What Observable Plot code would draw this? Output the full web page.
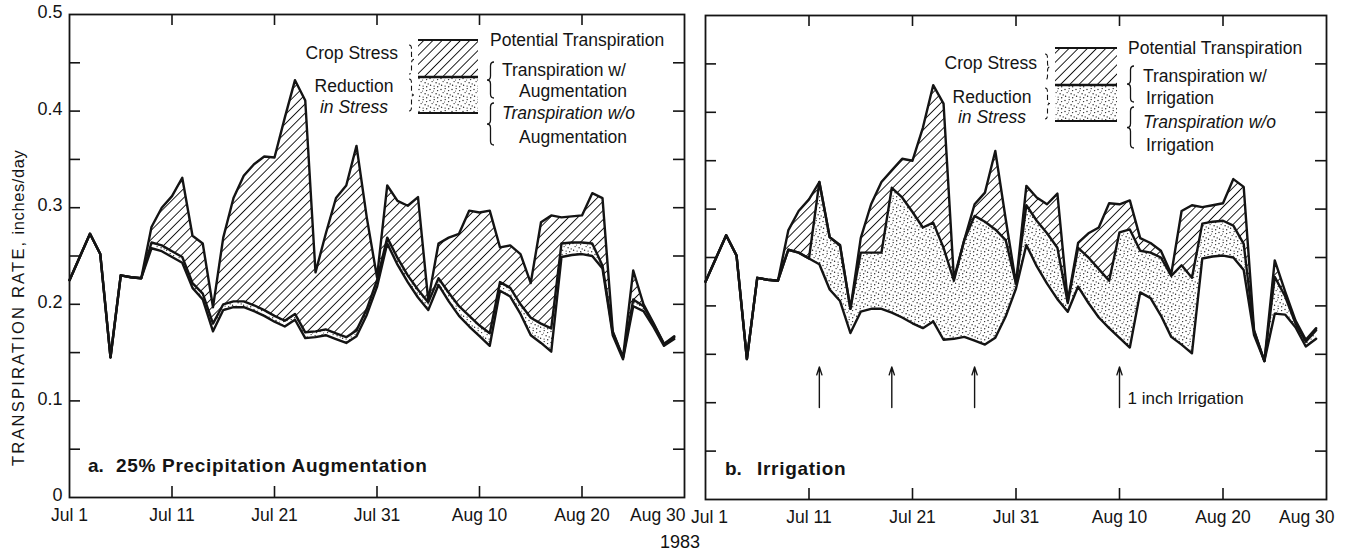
<!DOCTYPE html>
<html>
<head>
<meta charset="utf-8">
<script src="https://cdn.jsdelivr.net/npm/d3@7"></script>
<script src="https://cdn.jsdelivr.net/npm/@observablehq/plot@0.6"></script>
<style>
  body { margin: 0; background: #fff; }
  #wrap { position: relative; width: 1348px; height: 555px; font-family: "Liberation Sans", Arial, sans-serif; color: #111; }
  .panel { position: absolute; top: 0; }
  #year { position: absolute; left: 630px; width: 100px; text-align: center; top: 532px; font-size: 18px; }
</style>
</head>
<body>
<svg width="0" height="0" style="position:absolute">
  <defs>
    <pattern id="hatch" width="6.5" height="6.5" patternUnits="userSpaceOnUse" patternTransform="rotate(45)">
      <line x1="3.25" y1="-1" x2="3.25" y2="7.5" stroke="#111" stroke-width="0.95"/>
    </pattern>
    <pattern id="stipple" width="11" height="11" patternUnits="userSpaceOnUse">
      <circle cx="1" cy="1.5" r="0.7" fill="#222"/>
      <circle cx="5.2" cy="0.6" r="0.65" fill="#222"/>
      <circle cx="8.6" cy="2.6" r="0.7" fill="#222"/>
      <circle cx="3.1" cy="4.6" r="0.65" fill="#222"/>
      <circle cx="7.1" cy="5.7" r="0.7" fill="#222"/>
      <circle cx="10.2" cy="6.9" r="0.65" fill="#222"/>
      <circle cx="1.6" cy="8.2" r="0.7" fill="#222"/>
      <circle cx="5.1" cy="9.1" r="0.65" fill="#222"/>
      <circle cx="8.7" cy="9.8" r="0.7" fill="#222"/>
      <circle cx="4.6" cy="3.0" r="0.5" fill="#222"/>
    </pattern>
  </defs>
</svg>
<div id="wrap">
  <div id="pa" class="panel" style="left:0px"></div>
  <div id="pb" class="panel" style="left:690px"></div>
  <div id="year">1983</div>
</div>
<script>
const FONT = '"Liberation Sans", Arial, sans-serif';

// ---- data (daily, Jul 1 - Aug 29, 1983) ----
const dates = d3.utcDay.range(new Date(Date.UTC(1983, 6, 1)), new Date(Date.UTC(1983, 7, 30)));

// Panel a: 25% precipitation augmentation
const potentialA = [0.225,0.249,0.273,0.252,0.145,0.230,0.228,0.227,0.280,0.300,
  0.312,0.331,0.271,0.263,0.197,0.269,0.310,0.333,0.345,0.353,
  0.352,0.393,0.432,0.411,0.233,0.273,0.310,0.323,0.364,0.290,
  0.228,0.323,0.307,0.302,0.311,0.204,0.263,0.269,0.273,0.297,
  0.295,0.297,0.259,0.261,0.252,0.222,0.285,0.292,0.290,0.291,
  0.292,0.315,0.310,0.172,0.145,0.235,0.200,0.180,0.159,0.167];
const withAug = [0.225,0.249,0.273,0.252,0.145,0.230,0.228,0.227,0.264,0.261,
  0.255,0.249,0.222,0.211,0.180,0.200,0.203,0.203,0.199,0.194,
  0.188,0.183,0.190,0.171,0.172,0.174,0.170,0.166,0.173,0.195,
  0.225,0.269,0.248,0.230,0.215,0.202,0.227,0.212,0.198,0.188,
  0.178,0.170,0.223,0.217,0.200,0.186,0.180,0.175,0.263,0.264,
  0.264,0.263,0.240,0.171,0.145,0.205,0.198,0.179,0.159,0.166];
const withoutAug = [0.225,0.249,0.273,0.252,0.145,0.230,0.228,0.227,0.258,0.255,
  0.249,0.243,0.217,0.205,0.172,0.194,0.197,0.197,0.193,0.188,
  0.182,0.177,0.184,0.165,0.166,0.168,0.164,0.160,0.167,0.189,
  0.218,0.263,0.241,0.223,0.207,0.194,0.220,0.203,0.188,0.177,
  0.167,0.157,0.214,0.208,0.190,0.168,0.160,0.151,0.249,0.251,
  0.252,0.250,0.237,0.168,0.143,0.198,0.193,0.176,0.157,0.164];

// Panel b: irrigation
const potentialB = [0.225,0.249,0.273,0.252,0.145,0.229,0.227,0.226,0.278,0.298,
  0.310,0.328,0.271,0.263,0.197,0.270,0.305,0.328,0.340,0.352,
  0.350,0.384,0.428,0.409,0.228,0.268,0.305,0.317,0.360,0.290,
  0.223,0.324,0.312,0.305,0.316,0.205,0.265,0.275,0.281,0.306,
  0.305,0.309,0.270,0.265,0.257,0.233,0.298,0.304,0.302,0.304,
  0.306,0.331,0.323,0.175,0.143,0.247,0.215,0.185,0.165,0.177];
const withIrr = [0.225,0.249,0.273,0.252,0.145,0.229,0.227,0.226,0.258,0.255,
  0.249,0.328,0.271,0.262,0.197,0.255,0.255,0.255,0.322,0.312,
  0.297,0.281,0.286,0.260,0.226,0.268,0.293,0.287,0.279,0.268,
  0.223,0.304,0.288,0.275,0.260,0.203,0.260,0.250,0.238,0.226,
  0.276,0.279,0.257,0.255,0.250,0.231,0.242,0.229,0.285,0.287,
  0.288,0.283,0.264,0.174,0.143,0.230,0.210,0.182,0.163,0.175];
const withoutIrr = [0.225,0.249,0.273,0.252,0.145,0.229,0.227,0.226,0.258,0.255,
  0.249,0.243,0.217,0.205,0.172,0.194,0.197,0.197,0.193,0.188,
  0.182,0.177,0.184,0.165,0.166,0.168,0.164,0.160,0.167,0.189,
  0.218,0.263,0.241,0.223,0.207,0.194,0.220,0.203,0.188,0.177,
  0.167,0.157,0.214,0.208,0.190,0.168,0.160,0.151,0.249,0.251,
  0.252,0.250,0.237,0.170,0.143,0.192,0.191,0.178,0.158,0.166];

// irrigation events (1 inch)
const irrigationDates = ["1983-07-12", "1983-07-19", "1983-07-27", "1983-08-10"].map(s => new Date(s + "T00:00Z"));

// axes
const xDomain = [new Date(Date.UTC(1983, 6, 1)), new Date(Date.UTC(1983, 7, 30))];
const xTickDates = ["1983-07-11", "1983-07-21", "1983-07-31", "1983-08-10", "1983-08-20"].map(s => new Date(s + "T00:00Z"));
const xLabelDates = ["1983-07-01", "1983-07-11", "1983-07-21", "1983-07-31", "1983-08-10", "1983-08-20", "1983-08-30"].map(s => new Date(s + "T00:00Z"));
const xLabelText = ["Jul 1", "Jul 11", "Jul 21", "Jul 31", "Aug 10", "Aug 20", "Aug 30"];
const yTickValues = [0.05, 0.1, 0.15, 0.2, 0.25, 0.3, 0.35, 0.4, 0.45];
const yLabelValues = [0, 0.1, 0.2, 0.3, 0.4, 0.5];
const yLabelText = ["0", "0.1", "0.2", "0.3", "0.4", "0.5"];

const H = 555;
const INK = "#141414";

function brace(x, y0, y1, d, w) {
  const ym = (y0 + y1) / 2, a = x + d * w, m = x + d * w / 2, q = Math.min(4, (y1 - y0) / 6);
  return `M${a},${y0}Q${m},${y0} ${m},${y0 + q}L${m},${ym - q}Q${m},${ym} ${x},${ym}Q${m},${ym} ${m},${ym + q}L${m},${y1 - q}Q${m},${y1} ${a},${y1}`;
}

function makePanel(cfg) {
  const rows = dates.map((d, i) => ({date: d, pot: cfg.pot[i], w: cfg.w[i], wo: cfg.wo[i]}));
  const fw = cfg.width - cfg.ml - cfg.mr, fh = H - cfg.mt - cfg.mb;
  const tick = {stroke: INK, strokeWidth: 1.6};
  const lab = {frameAnchor: "bottom", dy: 23, fontSize: 17.5, fill: INK};
  const marks = [
    Plot.areaY(rows, {x: "date", y1: "w", y2: "pot", fill: "url(#hatch)"}),
    Plot.areaY(rows, {x: "date", y1: "wo", y2: "w", fill: "url(#stipple)"}),
    Plot.line(rows, {x: "date", y: "pot", stroke: INK, strokeWidth: 2.4}),
    Plot.line(rows, {x: "date", y: "w", stroke: INK, strokeWidth: 2.4}),
    Plot.line(rows, {x: "date", y: "wo", stroke: INK, strokeWidth: 2.4}),
    Plot.frame({stroke: INK, strokeWidth: 1.8}),
    Plot.ruleX(xTickDates, {x: d => d, insetTop: fh - 11, ...tick}),
    Plot.ruleX(xTickDates, {x: d => d, insetBottom: fh - 11, ...tick}),
    Plot.ruleY(yTickValues, {y: d => d, insetRight: fw - 11, ...tick}),
    Plot.ruleY(yTickValues, {y: d => d, insetLeft: fw - 11, ...tick}),
    Plot.text(xLabelDates.slice(0, 1), {x: d => d, text: xLabelText.slice(0, 1), dx: cfg.firstDx, ...lab}),
    Plot.text(xLabelDates.slice(1, 6), {x: d => d, text: xLabelText.slice(1, 6), ...lab}),
    Plot.text(xLabelDates.slice(6), {x: d => d, text: xLabelText.slice(6), textAnchor: "end", dx: cfg.lastDx, ...lab})
  ];
  if (cfg.yLabels) {
    marks.push(Plot.text(yLabelValues, {y: d => d, text: yLabelText, frameAnchor: "left", textAnchor: "end", dx: -7, dy: -2, fontSize: 18, fill: INK}));
  }
  if (cfg.arrows) {
    marks.push(Plot.arrow(irrigationDates, {x1: d => d, x2: d => d, y1: () => 0.095, y2: () => 0.137, stroke: INK, strokeWidth: 1.4, headLength: 9, headAngle: 36}));
    marks.push(Plot.text(irrigationDates.slice(-1), {x: d => d, y: () => 0.104, text: () => "1 inch Irrigation", textAnchor: "start", dx: 8, fontSize: 17, fill: INK}));
  }
  return Plot.plot({
    width: cfg.width, height: H,
    marginLeft: cfg.ml, marginRight: cfg.mr, marginTop: cfg.mt, marginBottom: cfg.mb,
    x: {type: "utc", domain: xDomain, axis: null},
    y: {domain: [0, 0.5], axis: null},
    style: {fontFamily: FONT, background: "transparent", overflow: "visible"},
    marks
  });
}

function legend(svg, o) {
  const g = d3.select(svg).append("g").attr("font-family", FONT).attr("fill", INK).attr("font-size", 17.5).attr("text-anchor", "start");
  g.append("rect").attr("x", o.bx0).attr("y", o.yTop).attr("width", o.bx1 - o.bx0).attr("height", o.yMid - o.yTop).attr("fill", "url(#hatch)");
  g.append("rect").attr("x", o.bx0).attr("y", o.yMid).attr("width", o.bx1 - o.bx0).attr("height", o.yBot - o.yMid).attr("fill", "url(#stipple)");
  for (const [y, w] of [[o.yTop, 1.8], [o.yMid, 2.4], [o.yBot, 2.2]]) {
    g.append("line").attr("x1", o.bx0).attr("x2", o.bx1).attr("y1", y).attr("y2", y).attr("stroke", INK).attr("stroke-width", w);
  }
  const t = (x, y, s, anchor = "start", italic = false) =>
    g.append("text").attr("x", x).attr("y", y).attr("dy", "0.35em").attr("text-anchor", anchor).attr("font-style", italic ? "italic" : null).text(s);
  t(o.potX, o.potY, "Potential Transpiration");
  t(o.textX, o.t1Y, "Transpiration w/");
  t(o.centerX, o.t1bY, o.word, "middle");
  t(o.textX, o.t2Y, "Transpiration w/o", "start", true);
  t(o.centerX, o.t2bY, o.word, "middle");
  t(o.cropEnd, o.cropY, "Crop Stress", "end");
  t(o.redX, o.redY, "Reduction", "middle");
  t(o.redX, o.inY, "in Stress", "middle", true);
  const b = (x, y0, y1, d, w, sw, dash) => g.append("path").attr("d", brace(x, y0, y1, d, w)).attr("fill", "none").attr("stroke", INK).attr("stroke-width", sw).attr("stroke-dasharray", dash);
  b(o.braceX, o.br1[0], o.br1[1], 1, 7, 1.3, null);
  b(o.braceX, o.br2[0], o.br2[1], 1, 7, 1.3, null);
  b(o.lbrX, o.lbr1[0], o.lbr1[1], -1, 5, 1.1, "5 3");
  b(o.lbrX, o.lbr2[0], o.lbr2[1], -1, 5, 1.1, "5 3");
}

// Panel a
const svgA = makePanel({width: 690, ml: 69, mr: 6, mt: 14, mb: 58, pot: potentialA, w: withAug, wo: withoutAug, yLabels: true, firstDx: 0, lastDx: 1});
legend(svgA, {bx0: 418, bx1: 478, yTop: 40, yMid: 77, yBot: 113, potX: 490, potY: 40,
  braceX: 487, br1: [62, 98], br2: [103, 145], textX: 502, t1Y: 70, t1bY: 91, t2Y: 113, t2bY: 137,
  centerX: 573, word: "Augmentation", cropEnd: 398, cropY: 53, redX: 354, redY: 86, inY: 107,
  lbrX: 414, lbr1: [45, 74], lbr2: [79, 111]});
{
  const g = d3.select(svgA).append("g").attr("font-family", FONT).attr("fill", INK).attr("text-anchor", "start");
  const title = g.append("text").attr("transform", "translate(18,466) rotate(-90)").attr("font-size", 16.5).attr("dy", "0.35em").attr("text-anchor", "start");
  title.append("tspan").attr("letter-spacing", "2.2px").text("TRANSPIRATION RATE,");
  title.append("tspan").attr("letter-spacing", "0.6px").text(" inches/day");
  g.append("text").attr("x", 88).attr("y", 465).attr("dy", "0.35em").attr("font-weight", "bold").attr("font-size", 19).text("a.");
  g.append("text").attr("x", 116).attr("y", 465).attr("dy", "0.35em").attr("font-weight", "bold").attr("font-size", 19).attr("letter-spacing", "0.7px").text("25% Precipitation Augmentation");
}
document.getElementById("pa").appendChild(svgA);

// Panel b
const svgB = makePanel({width: 658, ml: 15, mr: 22, mt: 15, mb: 56, pot: potentialB, w: withIrr, wo: withoutIrr, yLabels: false, arrows: true, firstDx: 4, lastDx: 8});
legend(svgB, {bx0: 365, bx1: 427, yTop: 48, yMid: 85, yBot: 121, potX: 438, potY: 48,
  braceX: 437, br1: [66, 102], br2: [107, 148], textX: 453, t1Y: 76, t1bY: 98, t2Y: 122, t2bY: 145,
  centerX: 490, word: "Irrigation", cropEnd: 347, cropY: 63, redX: 302, redY: 97, inY: 117,
  lbrX: 360, lbr1: [54, 80], lbr2: [88, 119]});
{
  const g = d3.select(svgB).append("g").attr("font-family", FONT).attr("fill", INK).attr("text-anchor", "start");
  g.append("text").attr("x", 35).attr("y", 468).attr("dy", "0.35em").attr("font-weight", "bold").attr("font-size", 19).text("b.");
  g.append("text").attr("x", 67).attr("y", 468).attr("dy", "0.35em").attr("font-weight", "bold").attr("font-size", 19).attr("letter-spacing", "0.7px").text("Irrigation");
}
document.getElementById("pb").appendChild(svgB);
</script>
</body>
</html>
